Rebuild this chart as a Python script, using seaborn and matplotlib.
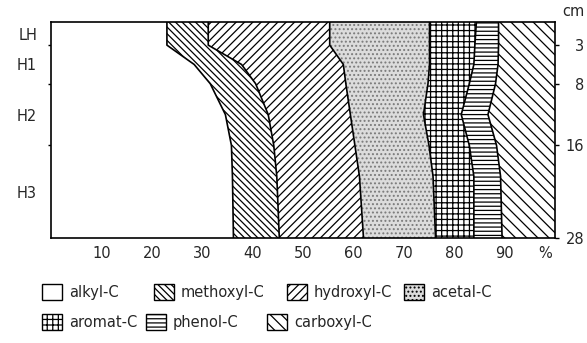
import numpy as np
import matplotlib
matplotlib.use('Agg')
import matplotlib.pyplot as plt
import seaborn as sns
from matplotlib.patches import Patch

# depth (cm) and share of each C fraction (%)
depth = [0, 3, 5.5, 8, 12, 16, 20, 28]
alkyl = [23.0, 23.0, 28.4, 31.6, 34.6, 35.8, 36.0, 36.2]
methoxyl = [8.2, 8.2, 9.4, 9.0, 8.5, 8.4, 8.8, 9.1]
hydroxyl = [24.1, 24.1, 20.2, 17.9, 16.3, 16.1, 16.4, 16.7]
acetal = [19.8, 19.8, 17.1, 16.3, 14.5, 14.7, 14.6, 14.3]
aromat = [9.3, 9.0, 8.8, 8.2, 7.5, 8.0, 8.1, 7.6]
phenol = [4.4, 4.7, 4.8, 5.2, 5.3, 5.4, 5.3, 5.6]
carboxyl = [11.2, 11.2, 11.3, 11.8, 13.3, 11.6, 10.8, 10.5]

names = ['alkyl-C', 'methoxyl-C', 'hydroxyl-C', 'acetal-C',
         'aromat-C', 'phenol-C', 'carboxyl-C']
horizons = ['LH', 'H1', 'H2', 'H3']
horizon_bounds = [0, 3, 8, 16, 28]
x_ticks = [10, 20, 30, 40, 50, 60, 70, 80, 90]

sns.set_theme(style='white')
plt.rcParams['font.family'] = ['DejaVu Sans']
plt.rcParams['hatch.linewidth'] = 0.9

hatches = ['', '\\' * 5, '/' * 4, '....', '+++', '----', '\\' * 3]
faces = ['white', 'white', 'white', '#dcdcdc', 'white', 'white', 'white']
hcols = ['black', 'black', 'black', '#7a7a7a', 'black', 'black', 'black']

fig = plt.figure(figsize=(5.87, 3.43), dpi=100)
ax = fig.add_axes([51 / 587, 1 - 238 / 343, 504 / 587, 216 / 343])

series = np.array([alkyl, methoxyl, hydroxyl, acetal, aromat, phenol, carboxyl])
cum = np.vstack([np.zeros(len(depth)), np.cumsum(series, axis=0)])
for i in range(len(names)):
    ax.fill_betweenx(depth, cum[i], cum[i + 1], facecolor=faces[i],
                     edgecolor=hcols[i], hatch=hatches[i], linewidth=0)
for i in range(1, len(names)):
    ax.plot(cum[i], depth, color='black', lw=1.2)

ax.set_xlim(0, 100)
ax.set_ylim(28, 0)
for s in ax.spines.values():
    s.set_color('black')
    s.set_linewidth(1.2)

fs = 10.5
ax.set_xticks(x_ticks)
ax.set_xticklabels([str(t) for t in x_ticks], fontsize=fs)
ax.set_xticks([98], minor=True)
ax.set_xticklabels(['%'], minor=True, fontsize=fs)
ax.tick_params(axis='x', which='major', direction='out', length=4, width=1,
               color='black', pad=2)
ax.tick_params(axis='x', which='minor', length=0, pad=6)

ax.set_yticks(horizon_bounds[1:-1])
ax.set_yticklabels([])
mids = [(a + b) / 2 for a, b in zip(horizon_bounds[:-1], horizon_bounds[1:])]
ax.set_yticks(mids, minor=True)
ax.set_yticklabels(horizons, minor=True, fontsize=fs)
ax.tick_params(axis='y', which='major', direction='inout', length=5, width=1,
               color='black', left=True)
ax.tick_params(axis='y', which='minor', length=0, pad=10, left=True)

ax2 = ax.twinx()
ax2.set_ylim(28, 0)
ax2.set_yticks(horizon_bounds[1:])
ax2.set_yticklabels([str(t) for t in horizon_bounds[1:]], fontsize=fs,
                    ha='right')
ax2.tick_params(axis='y', direction='out', length=3, width=1, color='black',
                right=True, pad=18)
ax2.grid(False)
for s in ax2.spines.values():
    s.set_visible(False)
fig.text(573 / 587, 1 - 12 / 343, 'cm', fontsize=fs, ha='center', va='center')

# legend entries, placed one by one like the original figure
leg_x = [42, 154, 287, 404, 42, 146, 267]
leg_y = [292, 292, 292, 292, 322, 322, 322]
for i in range(len(names)):
    h = Patch(facecolor=faces[i], edgecolor='black', hatch=hatches[i],
              linewidth=1, label=names[i])
    fig.legend(handles=[h], loc='center left', frameon=False, fontsize=fs,
               handlelength=1.35, handleheight=1.35, handletextpad=0.5,
               borderaxespad=0, borderpad=0,
               bbox_to_anchor=(leg_x[i] / 587, 1 - leg_y[i] / 343))

plt.savefig('out.png', dpi=100)
